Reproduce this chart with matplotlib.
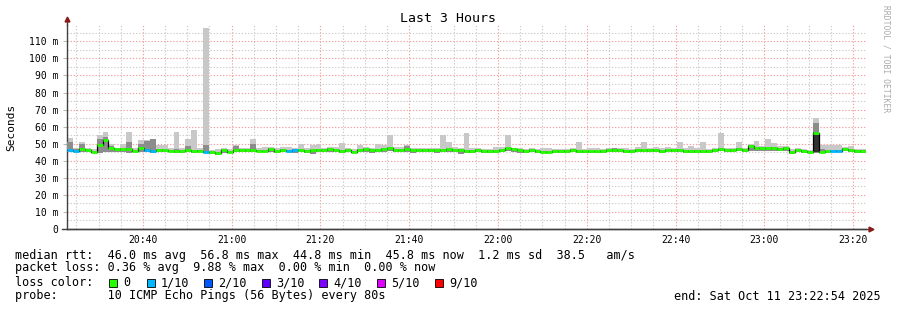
import numpy as np
import matplotlib
matplotlib.use("Agg")
import matplotlib.pyplot as plt
from matplotlib.patches import Rectangle

plt.rcParams['font.family'] = ['DejaVu Sans Mono']

# smokeping: 10 pings every 80 s, 3 hours ending 23:22:54
start_min = 20 * 60 + 22 + 54 / 60.0
step_min = 80 / 60.0

# median rtt per step (ms)
median = [46.5, 46.0, 46.7, 46.5, 45.3, 49.3, 52.0, 47.3, 46.8, 46.8,
          46.8, 45.9, 47.5, 46.5, 45.8, 46.5, 46.5, 46.0, 46.0, 45.8,
          46.5, 45.5, 45.8, 45.2, 45.0, 44.8, 46.3, 45.2, 46.2, 46.2,
          46.2, 46.5, 46.0, 46.0, 46.8, 45.6, 46.3, 46.0, 46.3, 46.3,
          46.0, 46.3, 46.3, 46.3, 47.0, 46.3, 45.9, 46.3, 45.4, 46.3,
          46.8, 46.3, 46.3, 46.7, 47.5, 46.3, 46.3, 46.7, 46.3, 46.3,
          46.3, 46.3, 46.3, 46.3, 46.7, 46.3, 46.3, 46.0, 45.8, 46.3,
          45.5, 45.9, 46.0, 46.3, 47.2, 46.7, 46.3, 45.9, 46.5, 45.9,
          45.3, 45.3, 45.9, 45.5, 45.9, 46.3, 45.9, 45.5, 45.5, 45.5,
          45.9, 46.3, 46.3, 46.3, 45.9, 45.9, 46.3, 46.3, 46.3, 46.3,
          46.0, 46.2, 46.2, 46.4, 45.9, 45.9, 46.0, 46.0, 45.7, 46.2,
          47.0, 46.2, 46.2, 47.0, 46.2, 48.6, 47.7, 47.3, 47.3, 47.3,
          46.8, 47.7, 45.0, 46.2, 45.8, 45.2, 56.5, 45.4, 45.8, 46.0,
          46.0, 46.8, 46.6, 45.8, 45.8]

# smoke: fastest / slowest ping per step (light grey)
smoke_lo = [45.2, 45.0, 45.3, 45.0, 44.8, 44.6, 45.0, 45.3, 45.2, 45.0,
            44.8, 45.0, 45.2, 45.0, 44.8, 45.3, 45.2, 45.0, 44.3, 44.8,
            45.0, 44.6, 45.0, 44.8, 43.8, 43.6, 44.6, 44.3, 45.0, 45.2,
            45.0, 45.2, 45.0, 45.0, 45.3, 44.6, 45.0, 45.0, 44.8, 45.0,
            44.8, 44.2, 45.0, 45.0, 45.3, 45.0, 44.3, 45.0, 44.6, 45.0,
            45.2, 44.8, 45.0, 45.2, 45.5, 45.0, 45.0, 45.2, 44.6, 45.0,
            45.0, 45.0, 44.8, 45.0, 45.2, 45.0, 44.0, 44.8, 44.5, 45.0,
            44.6, 44.8, 44.8, 45.0, 45.5, 45.2, 44.8, 44.6, 45.0, 44.6,
            44.4, 44.4, 44.6, 44.4, 44.6, 45.0, 44.6, 44.4, 44.4, 44.4,
            44.6, 45.0, 45.0, 45.0, 44.6, 44.6, 45.0, 45.0, 45.0, 45.0,
            44.8, 45.0, 45.0, 45.0, 44.6, 44.6, 44.8, 44.8, 44.4, 45.0,
            45.5, 45.0, 45.0, 45.5, 45.0, 46.0, 46.0, 45.8, 45.8, 45.8,
            45.5, 46.0, 44.2, 45.0, 44.6, 44.4, 44.8, 44.5, 44.8, 45.0,
            45.0, 45.5, 45.3, 44.8, 44.8]
smoke_hi = [53.5, 47.5, 51.0, 47.5, 47.0, 55.0, 57.0, 49.6, 47.5, 50.0,
            57.0, 47.5, 52.0, 52.0, 52.5, 49.0, 49.0, 47.5, 57.0, 47.5,
            53.0, 58.0, 47.5, 118.0, 46.5, 47.0, 47.5, 47.0, 49.0, 47.5,
            47.5, 52.5, 47.5, 48.3, 48.3, 47.5, 48.3, 48.3, 47.5, 50.0,
            47.5, 49.0, 50.0, 47.5, 48.3, 48.3, 50.7, 47.5, 47.0, 49.0,
            48.0, 47.5, 49.8, 49.0, 55.0, 47.8, 48.3, 49.0, 47.5, 47.5,
            47.5, 47.5, 47.5, 55.0, 51.0, 47.8, 47.5, 56.0, 47.5, 47.5,
            47.0, 47.0, 48.0, 48.0, 55.0, 47.5, 47.5, 47.0, 47.5, 47.0,
            47.3, 47.3, 47.0, 46.8, 47.0, 47.5, 51.0, 46.8, 47.3, 47.3,
            47.0, 47.5, 47.5, 47.5, 47.5, 47.0, 48.0, 51.0, 47.5, 48.0,
            47.3, 47.8, 47.3, 50.8, 47.3, 48.6, 47.3, 50.8, 47.0, 47.3,
            56.0, 47.3, 47.3, 50.8, 47.3, 50.0, 51.5, 48.5, 52.9, 50.2,
            48.6, 48.6, 47.0, 47.6, 46.7, 46.5, 65.0, 49.3, 49.3, 49.3,
            49.3, 48.0, 48.6, 47.0, 47.0]
# inner pings (darker grey top)
smoke_mid = [51.0, 47.0, 50.0, 47.0, 46.0, 53.0, 54.0, 48.5, 47.2, 47.5,
             51.0, 46.5, 50.0, 51.5, 52.5, 47.0, 47.0, 46.5, 47.0, 46.3,
             48.5, 46.5, 46.3, 49.5, 45.5, 45.3, 46.8, 45.8, 48.5, 46.8,
             46.8, 50.0, 46.5, 46.5, 47.3, 46.2, 46.8, 46.5, 46.8, 46.8,
             46.5, 46.8, 46.8, 46.8, 47.6, 46.8, 46.5, 46.8, 46.0, 46.8,
             47.3, 46.8, 46.8, 47.2, 48.0, 46.8, 46.8, 48.5, 46.8, 46.8,
             46.8, 46.8, 46.8, 47.0, 47.2, 46.8, 46.8, 46.5, 46.3, 46.8,
             46.0, 46.4, 46.5, 46.8, 47.7, 47.2, 46.8, 46.4, 47.0, 46.4,
             45.8, 45.8, 46.4, 46.0, 46.4, 46.8, 46.4, 46.0, 46.0, 46.0,
             46.4, 46.8, 47.3, 46.8, 46.4, 46.4, 46.8, 46.8, 46.8, 46.8,
             46.5, 46.7, 46.7, 46.9, 46.4, 46.4, 46.5, 46.5, 46.2, 46.7,
             47.5, 46.7, 46.7, 47.5, 46.7, 49.0, 48.2, 47.8, 47.8, 47.8,
             47.3, 48.2, 45.5, 46.7, 46.3, 45.7, 62.0, 47.0, 46.3, 46.5,
             46.5, 47.3, 47.1, 46.3, 46.3]
# darkest core (most pings bunched together)
core_bins = [126]
core_lo = [45.0]
core_hi = [57.0]

# steps with packet loss (tenths lost)
loss_bins = [0, 1, 13, 14, 23, 37, 38, 129, 130]
loss_tenths = [1, 1, 1, 1, 1, 1, 1, 1, 1]

loss_labels = ['0', '1/10', '2/10', '3/10', '4/10', '5/10', '9/10']
loss_colors = ['#26ff00', '#00b8ff', '#0059ff', '#5e00ff', '#7e00ff', '#dd00ff', '#ff0000']
loss_levels = [0, 1, 2, 3, 4, 5, 9]

xtick_labels = ['20:40', '21:00', '21:20', '21:40', '22:00', '22:20', '22:40', '23:00', '23:20']

legend_rtt = 'median rtt:  46.0 ms avg  56.8 ms max  44.8 ms min  45.8 ms now  1.2 ms sd  38.5   am/s'
legend_loss = 'packet loss: 0.36 % avg  9.88 % max  0.00 % min  0.00 % now'
legend_probe = 'probe:       10 ICMP Echo Pings (56 Bytes) every 80s'
end_text = 'end: Sat Oct 11 23:22:54 2025'

W, H = 897, 310
fig = plt.figure(figsize=(W / 100, H / 100), dpi=100)
fig.patch.set_facecolor('white')
ax = fig.add_axes([67 / W, (H - 229) / H, 799 / W, 204 / H])

n = len(median)
t = start_min + step_min * np.arange(n)
med = np.array(median)

# smoke
ax.bar(t, np.array(smoke_hi) - np.array(smoke_lo), bottom=smoke_lo, width=step_min,
       align='edge', color='#c8c8c8', linewidth=0, zorder=2)
ax.bar(t, np.array(smoke_mid) - np.array(smoke_lo), bottom=smoke_lo, width=step_min,
       align='edge', color='#8c8c8c', linewidth=0, zorder=3)
ax.bar(t[core_bins], np.array(core_hi) - np.array(core_lo), bottom=core_lo, width=step_min,
       align='edge', color='#333333', linewidth=0, zorder=4)

# median: black step underneath, loss-coloured segments on top
edges = np.append(t, t[-1] + step_min)
ax.step(edges, np.append(med, med[-1]), where='post', color='black', lw=0.9, zorder=5)
loss = np.zeros(n, dtype=int)
loss[loss_bins] = loss_tenths
seg_colors = [loss_colors[loss_levels.index(v)] for v in loss]
ax.hlines(med, t, t + step_min, colors=seg_colors, lw=2.0, zorder=6, capstyle='butt')

ax.set_xlim(start_min, start_min + step_min * n)
ax.set_ylim(0, 119.6)

xt = [20 * 60 + 40 + 20 * k for k in range(len(xtick_labels))]
ax.set_xticks(xt)
ax.set_xticklabels(xtick_labels)
ax.set_xticks(np.arange(20 * 60 + 25, start_min + step_min * n, 5), minor=True)
ax.set_yticks(np.arange(0, 111, 10))
ax.set_yticklabels(['0'] + ['%d m' % v for v in range(10, 111, 10)])
ax.set_yticks(np.arange(5, 119, 10), minor=True)

ax.set_axisbelow(True)
ax.grid(which='major', color='#f2a0a0', ls=(0, (1.2, 1.6)), lw=0.8)
ax.grid(which='minor', color='#cccccc', ls=(0, (1.2, 1.6)), lw=0.8)
ax.tick_params(axis='both', which='major', labelsize=7, length=0, pad=4.5, colors='black')
ax.tick_params(axis='y', which='major', length=3, color='#bbbbbb', pad=3)
ax.tick_params(which='minor', length=0)

for s in ['top', 'right']:
    ax.spines[s].set_visible(False)
for s in ['left', 'bottom']:
    ax.spines[s].set_color('#404040')
    ax.spines[s].set_linewidth(1.0)

# axis arrows
ax.plot([0, 0], [1, 1.02], color='#404040', lw=1.0, transform=ax.transAxes, clip_on=False)
ax.plot([-0.006, 1.004], [0, 0], color='#404040', lw=1.0, transform=ax.transAxes, clip_on=False)
ax.plot(0, 1.03, marker='^', color='#8b1a1a', ms=3.5, transform=ax.transAxes, clip_on=False)
ax.plot(1.006, 0, marker='>', color='#8b1a1a', ms=3.5, transform=ax.transAxes, clip_on=False)


def px(x, y):
    return x / W, 1 - y / H


fig.text(*px(448, 19), 'Last 3 Hours', ha='center', va='center', fontsize=9.5)
fig.text(*px(11, 127), 'Seconds', rotation=90, ha='center', va='center', fontsize=8)
fig.text(*px(886, 5), 'RRDTOOL / TOBI OETIKER', rotation=270, ha='center', va='top',
         fontsize=5.8, color='#aaaaaa')

fs = 8.5
fig.text(*px(15, 255), legend_rtt, ha='left', va='center', fontsize=fs)
fig.text(*px(15, 268), legend_loss, ha='left', va='center', fontsize=fs)
fig.text(*px(15, 283), 'loss color:', ha='left', va='center', fontsize=fs)
box_x = [109, 147, 204, 262, 319, 377, 435]
for x, c, lab in zip(box_x, loss_colors, loss_labels):
    fig.patches.append(Rectangle((x / W, 1 - 287 / H), 8 / W, 8 / H, transform=fig.transFigure,
                                 facecolor=c, edgecolor='black', lw=0.6))
    fig.text(*px(x + 14, 283), lab, ha='left', va='center', fontsize=fs)
fig.text(*px(15, 296), legend_probe, ha='left', va='center', fontsize=fs)
fig.text(*px(881, 296), end_text, ha='right', va='center', fontsize=fs)

fig.savefig('out.png', dpi=100, facecolor='white')
